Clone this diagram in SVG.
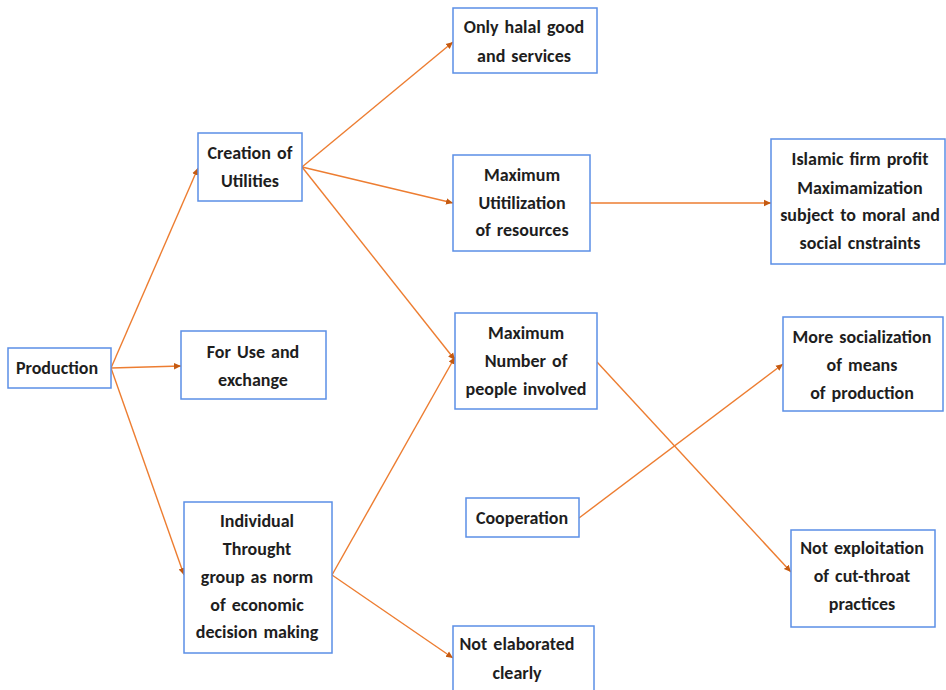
<svg xmlns="http://www.w3.org/2000/svg" width="946" height="690" viewBox="0 0 946 690">
<style>
.b{fill:#fff;stroke:#5b8fe6;stroke-width:1.5}
.t{font-family:Carlito,Lato,'Liberation Sans',sans-serif;font-weight:bold;font-size:18px;word-spacing:2px;fill:#1e1e1e;text-anchor:middle;dominant-baseline:central}
.c{fill:none;stroke:#ed7d31;stroke-width:1.4}
</style>
<defs>
<marker id="a" markerUnits="userSpaceOnUse" markerWidth="8" markerHeight="8" refX="7" refY="4" orient="auto">
<path d="M0,0.8 L7,4 L0,7.2 Z" fill="#c55a11"/>
</marker>
</defs>
<rect width="946" height="690" fill="#fff"/>
<g id="connectors">
<line class="c" x1="111" y1="368" x2="198" y2="168" marker-end="url(#a)"/>
<line class="c" x1="111" y1="368" x2="181" y2="366" marker-end="url(#a)"/>
<line class="c" x1="111" y1="368" x2="184" y2="575" marker-end="url(#a)"/>
<line class="c" x1="302" y1="167" x2="453" y2="42" marker-end="url(#a)"/>
<line class="c" x1="302" y1="167" x2="453" y2="203" marker-end="url(#a)"/>
<line class="c" x1="302" y1="167" x2="455" y2="360" marker-end="url(#a)"/>
<line class="c" x1="332" y1="575" x2="455" y2="357" marker-end="url(#a)"/>
<line class="c" x1="332" y1="575" x2="453" y2="658" marker-end="url(#a)"/>
<line class="c" x1="590" y1="203" x2="771" y2="203" marker-end="url(#a)"/>
<line class="c" x1="597" y1="362" x2="791" y2="572" marker-end="url(#a)"/>
<line class="c" x1="579" y1="518" x2="783" y2="364" marker-end="url(#a)"/>
</g>
<g id="production"><rect class="b" x="8" y="348" width="103" height="40"/><text class="t" x="57" y="368">Production</text></g>
<g id="creation"><rect class="b" x="198" y="133" width="104" height="68"/><text class="t" x="250" y="153">Creation of</text><text class="t" x="250" y="181">Utilities</text></g>
<g id="foruse"><rect class="b" x="181" y="331" width="145" height="68"/><text class="t" x="253" y="352">For Use and</text><text class="t" x="253" y="380">exchange</text></g>
<g id="individual"><rect class="b" x="184" y="502" width="148" height="151"/><text class="t" x="257" y="521">Individual</text><text class="t" x="257" y="549">Throught</text><text class="t" x="257" y="577">group as norm</text><text class="t" x="257" y="605">of economic</text><text class="t" x="257" y="632">decision making</text></g>
<g id="halal"><rect class="b" x="453" y="8" width="144" height="65"/><text class="t" x="524" y="27">Only halal good</text><text class="t" x="524" y="56">and services</text></g>
<g id="maxutil"><rect class="b" x="453" y="155" width="137" height="96"/><text class="t" x="522" y="175">Maximum</text><text class="t" x="522" y="203">Utitilization</text><text class="t" x="522" y="230">of resources</text></g>
<g id="maxnum"><rect class="b" x="455" y="313" width="142" height="96"/><text class="t" x="526" y="333">Maximum</text><text class="t" x="526" y="361">Number of</text><text class="t" x="526" y="389">people involved</text></g>
<g id="cooperation"><rect class="b" x="466" y="498" width="113" height="39"/><text class="t" x="522" y="518">Cooperation</text></g>
<g id="elaborated"><rect class="b" x="453" y="626" width="141" height="70"/><text class="t" x="517" y="644">Not elaborated</text><text class="t" x="517" y="673">clearly</text></g>
<g id="islamic"><rect class="b" x="771" y="139" width="174" height="125"/><text class="t" x="860" y="159">Islamic firm profit</text><text class="t" x="860" y="188">Maximamization</text><text class="t" x="860" y="215">subject to moral and</text><text class="t" x="860" y="243">social cnstraints</text></g>
<g id="socialization"><rect class="b" x="783" y="317" width="160" height="94"/><text class="t" x="862" y="337">More socialization</text><text class="t" x="862" y="365">of means</text><text class="t" x="862" y="393">of production</text></g>
<g id="exploitation"><rect class="b" x="791" y="530" width="144" height="97"/><text class="t" x="862" y="548">Not exploitation</text><text class="t" x="862" y="576">of cut-throat</text><text class="t" x="862" y="604">practices</text></g>
</svg>
